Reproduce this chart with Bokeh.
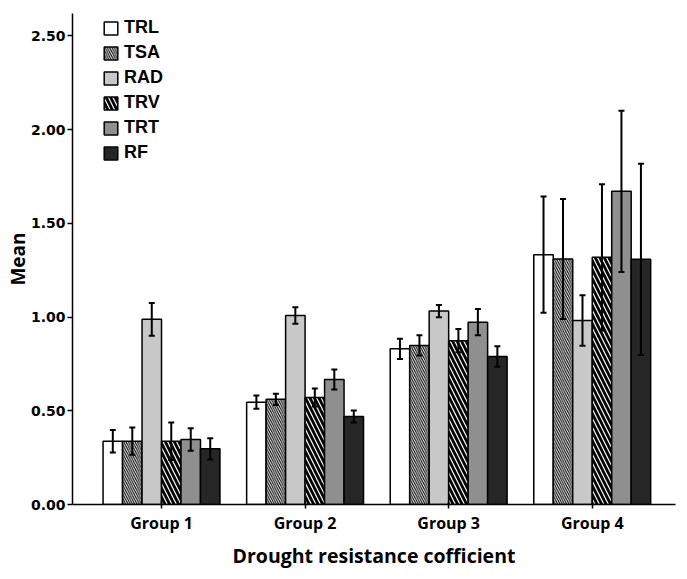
from bokeh.plotting import figure
from bokeh.models import (ColumnDataSource, FixedTicker, NumeralTickFormatter,
                          Whisker, TeeHead, Legend, LegendItem)
from bokeh.embed import file_html
from bokeh.resources import INLINE

groups = ["Group 1", "Group 2", "Group 3", "Group 4"]
series = ["TRL", "TSA", "RAD", "TRV", "TRT", "RF"]

TRL = [0.338, 0.546, 0.831, 1.333]
TSA = [0.338, 0.561, 0.849, 1.310]
RAD = [0.988, 1.009, 1.032, 0.982]
TRV = [0.338, 0.571, 0.874, 1.319]
TRT = [0.347, 0.667, 0.973, 1.671]
RF = [0.297, 0.470, 0.790, 1.308]

TRL_err = [0.060, 0.035, 0.054, 0.310]
TSA_err = [0.073, 0.030, 0.054, 0.320]
RAD_err = [0.087, 0.044, 0.033, 0.135]
TRV_err = [0.100, 0.048, 0.062, 0.390]
TRT_err = [0.060, 0.054, 0.070, 0.430]
RF_err = [0.057, 0.032, 0.055, 0.510]

values = [TRL, TSA, RAD, TRV, TRT, RF]
errors = [TRL_err, TSA_err, RAD_err, TRV_err, TRT_err, RF_err]

styles = [
    dict(fill_color="white"),
    dict(fill_color="white", hatch_pattern="\\", hatch_color="black", hatch_scale=4.5, hatch_weight=1.1),
    dict(fill_color="#c8c8c8"),
    dict(fill_color="white", hatch_pattern="\\", hatch_color="black", hatch_scale=9, hatch_weight=2.8),
    dict(fill_color="#8f8f8f"),
    dict(fill_color="#262626"),
]

p = figure(width=683, height=578, output_backend="svg", toolbar_location=None,
           x_range=(0.38, 4.58), y_range=(0, 2.62),
           min_border_left=72, min_border_right=8, min_border_top=13, min_border_bottom=74)
p.outline_line_color = None
p.xgrid.visible = False
p.ygrid.visible = False

bw = 0.1357
gx = [1, 2, 3, 4]
items = []
for i, (name, vals, errs, st) in enumerate(zip(series, values, errors, styles)):
    xs = [g + (i - 2.5) * bw for g in gx]
    src = ColumnDataSource(dict(x=xs, top=vals,
                                upper=[v + e for v, e in zip(vals, errs)],
                                lower=[v - e for v, e in zip(vals, errs)]))
    r = p.vbar(x="x", top="top", width=bw, bottom=0, source=src,
               line_color="black", line_width=1.5, **st)
    items.append(LegendItem(label=name, renderers=[r]))
    w = Whisker(base="x", upper="upper", lower="lower", source=src, dimension="height",
                line_color="black", line_width=2, level="overlay",
                upper_head=TeeHead(size=6, line_width=2, line_color="black"),
                lower_head=TeeHead(size=6, line_width=2, line_color="black"))
    p.add_layout(w)

legend = Legend(items=items, location=(30, 341))
legend.label_text_font = "Liberation Sans"
legend.label_text_font_style = "bold"
legend.label_text_font_size = "18px"
legend.label_text_color = "black"
legend.glyph_width = 17
legend.glyph_height = 16
legend.label_height = 20
legend.spacing = 4
legend.label_standoff = 5
legend.padding = 2
legend.margin = 0
legend.border_line_color = None
legend.background_fill_alpha = 0
p.add_layout(legend)

p.yaxis.ticker = FixedTicker(ticks=[0, 0.5, 1.0, 1.5, 2.0, 2.5])
p.yaxis.formatter = NumeralTickFormatter(format="0.00")
p.yaxis.axis_label = "Mean"
p.yaxis.axis_label_text_font = "Open Sans"
p.yaxis.axis_label_text_font_style = "bold"
p.yaxis.axis_label_text_font_size = "19px"
p.yaxis.axis_label_text_color = "black"
p.yaxis.axis_label_standoff = -3
p.yaxis.major_label_text_font = "DejaVu Sans"
p.yaxis.major_label_text_font_style = "bold"
p.yaxis.major_label_text_font_size = "14px"
p.yaxis.major_label_text_color = "black"
p.yaxis.major_label_standoff = 2
p.yaxis.major_tick_out = 5
p.yaxis.major_tick_in = 0
p.yaxis.minor_tick_line_color = None
p.yaxis.axis_line_width = 1.5
p.yaxis.axis_line_color = "black"
p.yaxis.major_tick_line_width = 1.5
p.yaxis.major_tick_line_color = "black"

p.xaxis.ticker = FixedTicker(ticks=gx)
p.xaxis.major_label_overrides = {g: lab for g, lab in zip(gx, groups)}
p.xaxis.axis_label = "Drought resistance cofficient"
p.xaxis.axis_label_text_font = "Open Sans"
p.xaxis.axis_label_text_font_style = "bold"
p.xaxis.axis_label_text_font_size = "19.5px"
p.xaxis.axis_label_text_color = "black"
p.xaxis.axis_label_standoff = 5
p.xaxis.major_label_text_font = "Open Sans"
p.xaxis.major_label_text_font_style = "bold"
p.xaxis.major_label_text_font_size = "16px"
p.xaxis.major_label_text_color = "black"
p.xaxis.major_label_standoff = 3
p.xaxis.major_tick_out = 4
p.xaxis.major_tick_in = 3
p.xaxis.minor_tick_line_color = None
p.xaxis.axis_line_width = 1.5
p.xaxis.axis_line_color = "black"
p.xaxis.major_tick_line_width = 1.5
p.xaxis.major_tick_line_color = "black"

open("out.html", "w").write(file_html(p, INLINE))
